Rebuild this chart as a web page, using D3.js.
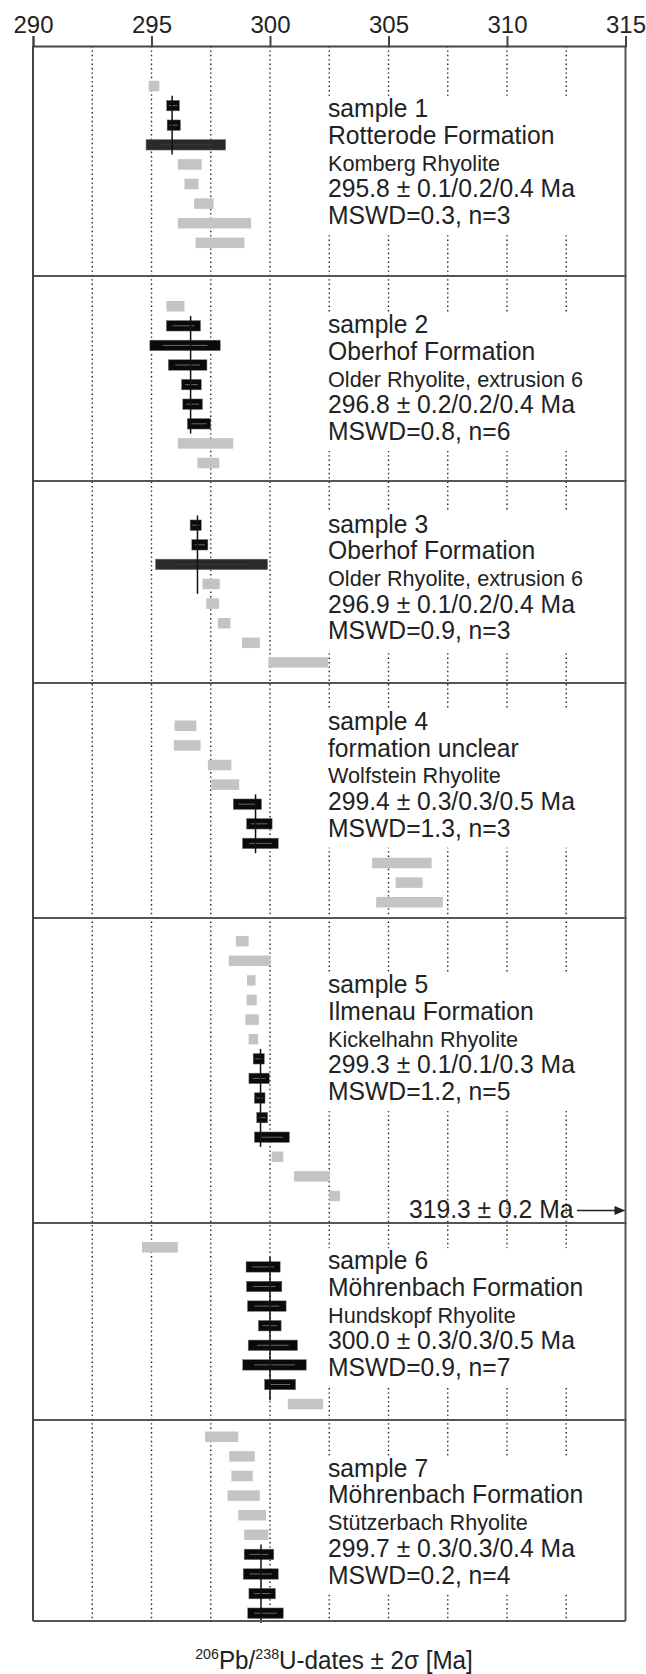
<!DOCTYPE html>
<html><head><meta charset="utf-8">
<script src="https://cdn.jsdelivr.net/npm/d3@7"></script>
<style>
html,body{margin:0;padding:0;background:#fff;}
svg{display:block;font-family:"Liberation Sans",Arial,Helvetica,sans-serif;}
</style></head>
<body>
<svg id="chart" width="646" height="1674"></svg>
<script>
// ---------------- DATA ----------------
const xTicks = [290, 295, 300, 305, 310, 315];
const gridValues = [292.5, 295, 297.5, 300, 302.5, 305, 307.5, 310, 312.5];

const sampleLabels = ["sample 1","sample 2","sample 3","sample 4","sample 5","sample 6","sample 7"];
const formations = ["Rotterode Formation","Oberhof Formation","Oberhof Formation","formation unclear","Ilmenau Formation","Möhrenbach Formation","Möhrenbach Formation"];
const rhyolites = ["Komberg Rhyolite","Older Rhyolite, extrusion 6","Older Rhyolite, extrusion 6","Wolfstein Rhyolite","Kickelhahn Rhyolite","Hundskopf Rhyolite","Stützerbach Rhyolite"];
const ageTexts = ["295.8 ± 0.1/0.2/0.4 Ma","296.8 ± 0.2/0.2/0.4 Ma","296.9 ± 0.1/0.2/0.4 Ma","299.4 ± 0.3/0.3/0.5 Ma","299.3 ± 0.1/0.1/0.3 Ma","300.0 ± 0.3/0.3/0.5 Ma","299.7 ± 0.3/0.3/0.4 Ma"];
const mswdTexts = ["MSWD=0.3, n=3","MSWD=0.8, n=6","MSWD=0.9, n=3","MSWD=1.3, n=3","MSWD=1.2, n=5","MSWD=0.9, n=7","MSWD=0.2, n=4"];

// weighted mean line position (as drawn) and the grain rows it spans
const weightedMeans = [295.87, 296.65, 296.94, 299.39, 299.6, 300.0, 299.62];
const meanRowSpans = [[1,3],[1,6],[0,3],[4,6],[6,10],[1,7.3],[6,9]];

// grains: [lower, upper, type]  g = excluded (grey), b = used (black), d = used, wide (dark)
const grains1 = [[294.88,295.33,"g"],[295.64,296.18,"b"],[295.66,296.22,"b"],[294.77,298.13,"d"],[296.11,297.12,"g"],[296.39,296.98,"g"],[296.8,297.62,"g"],[296.11,299.2,"g"],[296.86,298.92,"g"]];
const grains2 = [[295.63,296.39,"g"],[295.63,297.07,"b"],[294.93,297.9,"b"],[295.71,297.34,"b"],[296.27,297.1,"b"],[296.32,297.15,"b"],[296.51,297.5,"b"],[296.11,298.45,"g"],[296.94,297.86,"g"]];
const grains3 = [[296.63,297.1,"b"],[296.7,297.38,"b"],[295.17,299.9,"d"],[297.15,297.88,"g"],[297.31,297.85,"g"],[297.8,298.33,"g"],[298.82,299.57,"g"],[299.93,302.45,"g"]];
const grains4 = [[295.97,296.89,"g"],[295.94,297.07,"g"],[297.38,298.37,"g"],[297.52,298.7,"g"],[298.45,299.64,"b"],[299.01,300.09,"b"],[298.84,300.35,"b"],[304.31,306.82,"g"],[305.3,306.44,"g"],[304.48,307.29,"g"]];
const grains5 = [[298.56,299.1,"g"],[298.26,300.02,"g"],[299.03,299.39,"g"],[299.01,299.44,"g"],[298.96,299.53,"g"],[299.1,299.5,"g"],[299.29,299.76,"b"],[299.11,299.97,"b"],[299.34,299.79,"b"],[299.44,299.9,"b"],[299.34,300.82,"b"],[300.07,300.56,"g"],[301.01,302.52,"g"],[302.5,302.95,"g"]];
const grains6 = [[294.6,296.11,"g"],[298.99,300.43,"b"],[299.01,300.5,"b"],[299.05,300.68,"b"],[299.51,300.47,"b"],[299.08,301.16,"b"],[298.85,301.53,"b"],[299.77,301.08,"b"],[300.75,302.24,"g"]];
const grains7 = [[297.26,298.66,"g"],[298.28,299.36,"g"],[298.37,299.27,"g"],[298.21,299.57,"g"],[298.66,299.83,"g"],[298.91,299.93,"g"],[298.91,300.16,"b"],[298.87,300.35,"b"],[299.11,300.23,"b"],[299.06,300.56,"b"]];
const grains = [grains1, grains2, grains3, grains4, grains5, grains6, grains7];

const outlierText = "319.3 ± 0.2 Ma";
const outlierSample = 4; // index of sample 5

// ---------------- LAYOUT ----------------
const W = 646, H = 1674;
const x0px = 33, x1px = 625.5;
const sectionBounds = [46, 276, 481, 683, 918, 1223, 1420, 1621];
const firstRowY = [86, 306.2, 525.2, 725.8, 941.2, 1247.3, 1436.8];
const rowStep = 19.6;
const barH = 10.5;
const textRow = [1.6, 1.38, 0.38, 0.21, 2.66, 1.12, 2.04];
const lineGap = 26.7;
const sx = 0.95; // slight horizontal condensation of label font

const svg = d3.select("#chart");
svg.append("rect").attr("width", W).attr("height", H).attr("fill", "#fff");

const x = d3.scaleLinear().domain([290, 315]).range([x0px, x1px]);
const rowY = (s, i) => firstRowY[s] + i * rowStep;

const yTop = sectionBounds[0], yBottom = sectionBounds[sectionBounds.length - 1];

// grid
svg.append("g").selectAll("line").data(gridValues).join("line")
  .attr("x1", d => x(d)).attr("x2", d => x(d))
  .attr("y1", yTop).attr("y2", yBottom)
  .attr("stroke", "#222").attr("stroke-width", 1.4)
  .attr("stroke-dasharray", "1.4,3");

const boxG = svg.append("g");
const barG = svg.append("g");
const meanG = svg.append("g");
const textG = svg.append("g");

// text + white background boxes
sampleLabels.forEach((lab, s) => {
  const by = rowY(s, textRow[s]);
  const lines = [
    {t: lab, fs: 26}, {t: formations[s], fs: 26}, {t: rhyolites[s], fs: 22.8},
    {t: ageTexts[s], fs: 26}, {t: mswdTexts[s], fs: 26}
  ];
  const tg = textG.append("g");
  lines.forEach((ln, k) => {
    tg.append("text")
      .attr("transform", `translate(328,${by + k * lineGap}) scale(${sx},1)`)
      .attr("font-size", ln.fs).attr("fill", "#222").text(ln.t);
  });
  const bb = tg.node().getBBox();
  boxG.append("rect")
    .attr("x", 321).attr("y", by - 21)
    .attr("width", Math.max(265, bb.x + bb.width + 10 - 321))
    .attr("height", 4 * lineGap + 21 + 11)
    .attr("fill", "#fff");
});

// bars
grains.forEach((gs, s) => {
  gs.forEach((g, i) => {
    const cy = rowY(s, i);
    const [lo, hi, t] = g;
    const fill = t === "g" ? "#c4c4c4" : (t === "d" ? "#2a2a2a" : "#0a0a0a");
    barG.append("rect")
      .attr("x", x(lo)).attr("y", cy - barH / 2)
      .attr("width", x(hi) - x(lo)).attr("height", barH)
      .attr("fill", fill)
      .attr("stroke", t === "g" ? "none" : "#777").attr("stroke-width", 0.5);
    if (t !== "g") {
      const w = x(hi) - x(lo);
      barG.append("line")
        .attr("x1", x(lo) + w * 0.18).attr("x2", x(hi) - w * 0.18)
        .attr("y1", cy).attr("y2", cy)
        .attr("stroke", t === "d" ? "#3a3a3a" : "#666").attr("stroke-width", 1);
    }
  });
});

// weighted mean lines
meanG.selectAll("line").data(weightedMeans).join("line")
  .attr("x1", d => x(d)).attr("x2", d => x(d))
  .attr("y1", (d, s) => rowY(s, meanRowSpans[s][0]) - rowStep / 2)
  .attr("y2", (d, s) => rowY(s, meanRowSpans[s][1]) + rowStep / 2)
  .attr("stroke", "#111").attr("stroke-width", 1.5);

// section separators
svg.append("g").selectAll("line").data(sectionBounds.slice(1, -1)).join("line")
  .attr("x1", x0px).attr("x2", x1px + 1)
  .attr("y1", d => d).attr("y2", d => d)
  .attr("stroke", "#555").attr("stroke-width", 2);

// frame
svg.append("line").attr("x1", x0px).attr("x2", x0px).attr("y1", yTop).attr("y2", yBottom)
  .attr("stroke", "#444").attr("stroke-width", 2);
svg.append("line").attr("x1", x1px).attr("x2", x1px).attr("y1", yTop).attr("y2", yBottom)
  .attr("stroke", "#555").attr("stroke-width", 2);
svg.append("line").attr("x1", x0px).attr("x2", x1px).attr("y1", yBottom).attr("y2", yBottom)
  .attr("stroke", "#555").attr("stroke-width", 2);

// top axis
const axis = d3.axisTop(x).tickValues(xTicks).tickSize(10).tickPadding(3).tickFormat(d3.format("d"));
const ag = svg.append("g").attr("transform", `translate(0,${yTop})`).call(axis);
ag.select(".domain").attr("stroke", "#444").attr("stroke-width", 2);
ag.selectAll(".tick line").attr("stroke", "#444").attr("stroke-width", 2);
ag.selectAll(".tick text").attr("font-size", 24).attr("fill", "#222")
  .attr("font-family", "Liberation Sans, Arial, sans-serif").attr("dy", 0);

// outlier annotation (sample 5)
const annY = sectionBounds[outlierSample + 1] - 12.5;
svg.append("text").attr("transform", `translate(573.5,${annY + 7.5}) scale(${sx},1)`)
  .attr("text-anchor", "end").attr("font-size", 26).attr("fill", "#222").text(outlierText);
svg.append("line").attr("x1", 577).attr("x2", x1px - 8).attr("y1", annY).attr("y2", annY)
  .attr("stroke", "#222").attr("stroke-width", 1.3);
svg.append("path")
  .attr("d", `M${x1px},${annY} L${x1px - 11},${annY - 4.5} L${x1px - 11},${annY + 4.5} Z`)
  .attr("fill", "#222");

// x-axis title
const title = svg.append("text").attr("transform", `translate(334,1669) scale(${sx},1)`)
  .attr("text-anchor", "middle").attr("font-size", 25.5).attr("fill", "#222");
title.append("tspan").attr("font-size", 15).attr("dy", -10).text("206");
title.append("tspan").attr("dy", 10).text("Pb/");
title.append("tspan").attr("font-size", 15).attr("dy", -10).text("238");
title.append("tspan").attr("dy", 10).text("U-dates ± 2σ [Ma]");
</script>
</body></html>
